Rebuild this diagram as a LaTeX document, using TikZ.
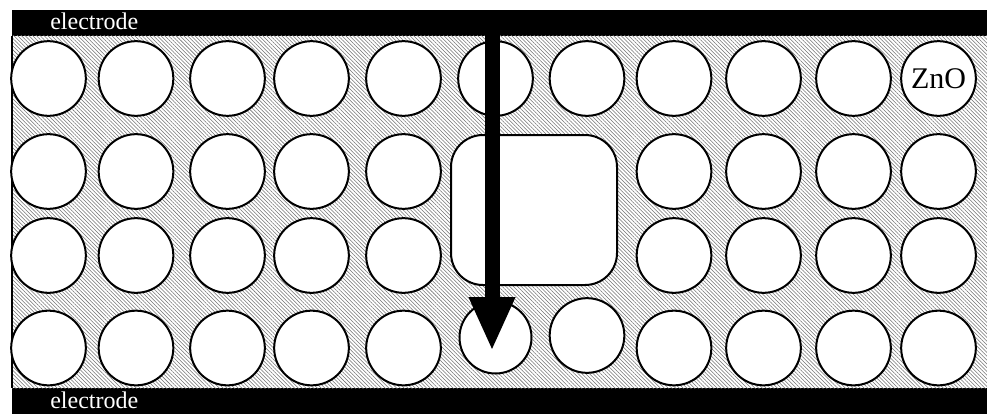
\documentclass[tikz,border=0pt]{standalone}
\usepackage{fontspec}
\setmainfont{Liberation Serif}
\usetikzlibrary{arrows.meta, patterns.meta}

\begin{document}
\begin{tikzpicture}[x=0.75pt, y=-0.75pt,
    grain/.style={circle, draw, line width=1.5pt, fill=white,
      minimum size=56pt, inner sep=0pt},
    pore/.style={rectangle, rounded corners=24pt, draw, line width=1.5pt,
      fill=white, minimum width=124.5pt, minimum height=112.5pt},
    electrode/.style={rectangle, fill=black, inner sep=0pt,
      minimum width=731.25pt, minimum height=19pt},
    lbl/.style={text=white, inner sep=0pt, font=\fontsize{18pt}{20pt}\selectfont},
    arr/.style={-{Triangle[width=32pt, length=40.5pt]}, line width=11.25pt}]
    \useasboundingbox[fill=white] (0,0) rectangle (987,414);
    \node[electrode, anchor=north west](top) at (12,10) {};
    \node[electrode, anchor=south west](bot) at (12,414) {};
    \fill[pattern={Lines[angle=-45, distance=2pt, line width=0.4pt]},
      pattern color=black!55] (top.south west) rectangle (bot.north east);
    \draw[line width=1.2pt] (top.south west) -- (bot.north west);
    \node[lbl, anchor=base west](toplbl) at (50,29.5) {electrode};
    \node[lbl, anchor=base west](botlbl) at (50,408) {electrode};
    % top row
    \foreach \x [count=\c] in {48.5,136,227.5,311.5,403.5,495.5,587,674,763.5,853.5}
      \node[grain](a\c) at (\x,78.5) {};
    \node[grain, font=\fontsize{22.5pt}{24pt}\selectfont](a11) at (938.5,78.5) {ZnO};
    % middle rows, on both sides of the pore
    \foreach \x [count=\c] in {48.5,136,227.5,311.5,403.5,674,763.5,853.5,938.5} {
      \node[grain](b\c) at (\x,171.5) {};
      \node[grain](c\c) at (\x,255.5) {};
    }
    \node[pore](pore) at (534,210) {};
    % bottom row
    \foreach \x [count=\c] in {48.5,136,227.5,311.5,403.5}
      \node[grain](d\c) at (\x,348) {};
    \node[grain, minimum size=54pt](d6) at (495.5,337.5) {};
    \node[grain](d7) at (587,335.5) {};
    \foreach \x [count=\c from 8] in {674,763.5,853.5,938.5}
      \node[grain](d\c) at (\x,348) {};
    \coordinate (tip) at (492,351);
    \draw[arr](top.north -| tip) -- (tip);
  \end{tikzpicture}
\end{document}
